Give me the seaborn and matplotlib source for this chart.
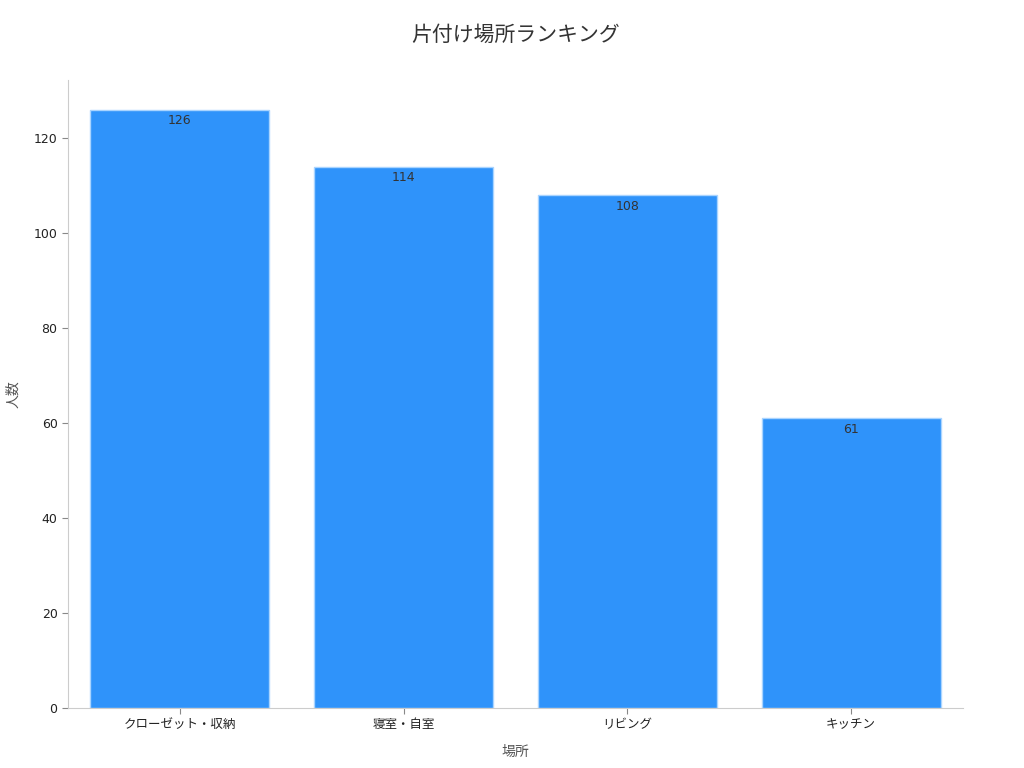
import matplotlib
matplotlib.use("Agg")
import matplotlib.pyplot as plt
import seaborn as sns
import pandas as pd

places = ["クローゼット・収納", "寝室・自室", "リビング", "キッチン"]
counts = [126, 114, 108, 61]

df = pd.DataFrame({"場所": places, "人数": counts})

sns.set_style("white")
plt.rcParams["font.family"] = ["DejaVu Sans", "Noto Sans CJK JP"]

fig = plt.figure(figsize=(10.24, 7.68), dpi=100)
ax = fig.add_axes([0.0664, 0.0781, 0.874, 0.8177])

sns.barplot(data=df, x="場所", y="人数", color="#2f93fa", saturation=1,
            width=0.8, edgecolor="#a9d4ff", linewidth=1, ax=ax)

for i, v in enumerate(counts):
    ax.annotate(str(v), (i, v), xytext=(0, -3), textcoords="offset points",
                ha="center", va="top", fontsize=9, color="#333333")

ax.set_xlim(-0.5, 3.5)
ax.set_ylim(0, max(counts) * 1.05)
ax.set_title("片付け場所ランキング", fontsize=15, color="#333333", pad=28)
ax.set_xlabel("場所", fontsize=10, color="#555555", labelpad=10)
ax.set_ylabel("人数", fontsize=10, color="#555555", labelpad=10)

for s in ["top", "right"]:
    ax.spines[s].set_visible(False)
for s in ["left", "bottom"]:
    ax.spines[s].set_color("#cccccc")
ax.tick_params(axis="both", length=4, color="#888888", labelsize=9, labelcolor="#222222",
               left=True, bottom=True)

fig.savefig("out.png", dpi=100)
